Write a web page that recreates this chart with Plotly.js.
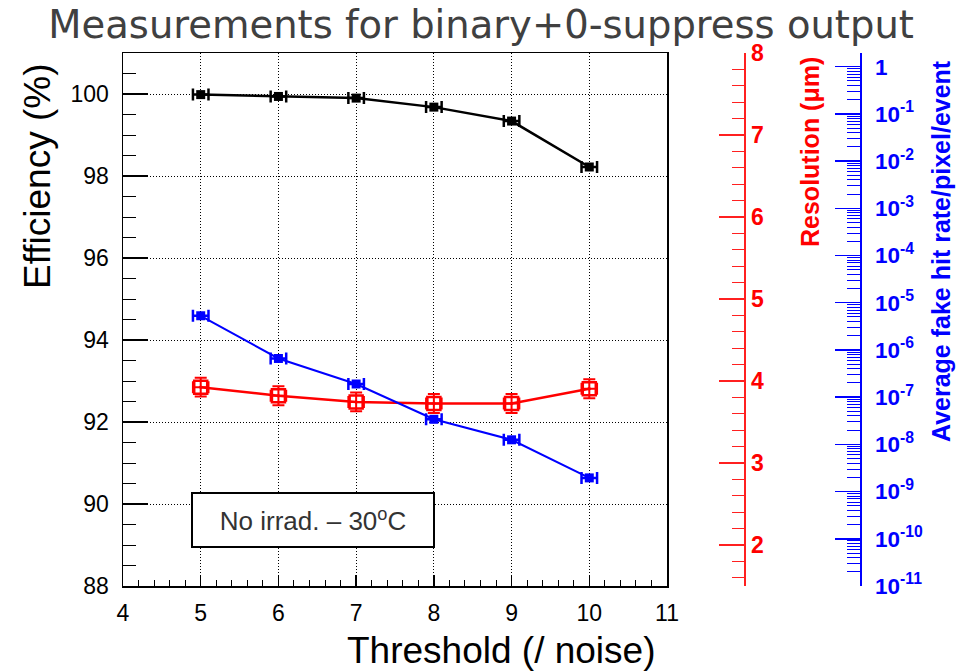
<!DOCTYPE html>
<html>
<head>
<meta charset="utf-8">
<script src="https://cdn.plot.ly/plotly-3.0.1.min.js"></script>
<style>html,body{margin:0;padding:0;background:#fff;}#chart{width:971px;height:672px;}</style>
</head>
<body>
<div id="chart"></div>
<script>
// ---- data ----
const thresholds = [5, 6, 7, 8, 9, 10];
const thresholdErr = [0.1, 0.1, 0.1, 0.1, 0.1, 0.1];
const efficiency = [99.985, 99.94, 99.90, 99.68, 99.34, 98.22];
const resolution = [3.925, 3.82, 3.745, 3.725, 3.725, 3.905];
const resolutionErr = [0.115, 0.115, 0.115, 0.115, 0.115, 0.115];
const fakeRate = [5.3e-6, 6.6e-7, 1.9e-7, 3.4e-8, 1.25e-8, 1.95e-9];
const resTickVals = [2, 3, 4, 5, 6, 7, 8];
const resTickText = ['<b>2</b>', '<b>3</b>', '<b>4</b>', '<b>5</b>', '<b>6</b>', '<b>7</b>', '<b>8</b>'];
const fakeTickVals = [1, 1e-1, 1e-2, 1e-3, 1e-4, 1e-5, 1e-6, 1e-7, 1e-8, 1e-9, 1e-10, 1e-11];
const fakeTickText = ['<b>1</b>', '<b>10<sup>-1</sup></b>', '<b>10<sup>-2</sup></b>', '<b>10<sup>-3</sup></b>',
  '<b>10<sup>-4</sup></b>', '<b>10<sup>-5</sup></b>', '<b>10<sup>-6</sup></b>', '<b>10<sup>-7</sup></b>',
  '<b>10<sup>-8</sup></b>', '<b>10<sup>-9</sup></b>', '<b>10<sup>-10</sup></b>', '<b>10<sup>-11</sup></b>'];
const titleText = 'Measurements for binary+0-suppress output';
const xTitle = 'Threshold (/ noise)';
const yTitle = 'Efficiency (%)';
const y2Title = '<b>Resolution (\u03bcm)</b>';
const y3Title = '<b>Average fake hit rate/pixel/event</b>';
const boxText = 'No irrad. \u2013 30<sup>o</sup>C';

const F = 'Liberation Sans, Arial, sans-serif';
const DOT = '1px,2px';

const traces = [
  {
    x: thresholds, y: efficiency, yaxis: 'y', xaxis: 'x', type: 'scatter', mode: 'lines+markers',
    line: {color: 'black', width: 2.5},
    marker: {symbol: 'square', size: 9, color: 'black'},
    error_x: {type: 'data', array: thresholdErr, color: 'black', thickness: 2.5, width: 6},
    cliponaxis: false
  },
  {
    x: thresholds, y: resolution, yaxis: 'y2', xaxis: 'x', type: 'scatter', mode: 'lines+markers',
    line: {color: '#ff0000', width: 2.5},
    marker: {symbol: 'square-open-dot', size: 13, color: '#ff0000', line: {width: 2.5, color: '#ff0000'}},
    error_x: {type: 'data', array: thresholdErr, color: '#ff0000', thickness: 2, width: 6},
    error_y: {type: 'data', array: resolutionErr, color: '#ff0000', thickness: 2, width: 6},
    cliponaxis: false
  },
  {
    x: thresholds, y: fakeRate, yaxis: 'y3', xaxis: 'x', type: 'scatter', mode: 'lines+markers',
    line: {color: '#0000ff', width: 2},
    marker: {symbol: 'square', size: 9, color: '#0000ff'},
    error_x: {type: 'data', array: thresholdErr, color: '#0000ff', thickness: 2.5, width: 6},
    cliponaxis: false
  }
];

const PW = 848; // plotting width after left margin
const xDomR = 544 / PW;

const layout = {
  width: 971, height: 672,
  margin: {l: 123, r: 0, t: 53, b: 86, pad: 0},
  paper_bgcolor: '#ffffff', plot_bgcolor: '#ffffff',
  showlegend: false,
  title: {
    text: titleText, xref: 'container', x: 0.4955, xanchor: 'center',
    yref: 'container', y: 1 - 25 / 672, yanchor: 'middle',
    font: {family: 'DejaVu Sans, sans-serif', size: 38.5, color: '#404040'}
  },
  xaxis: {
    domain: [0, xDomR], range: [4, 11], tick0: 4, dtick: 1,
    ticks: 'inside', ticklen: 11, tickwidth: 1.5, tickcolor: 'black',
    showline: true, linecolor: 'black', linewidth: 1.5, mirror: true,
    showgrid: true, gridcolor: 'black', gridwidth: 1, griddash: DOT, zeroline: false,
    tickfont: {family: F, size: 23, color: 'black'}, ticklabelstandoff: 6,
    minor: {dtick: 0.2, ticks: 'inside', ticklen: 6, tickcolor: 'black', tickwidth: 1, showgrid: false}
  },
  yaxis: {
    range: [88, 101], tick0: 88, dtick: 2,
    ticks: 'inside', ticklen: 25, tickwidth: 1.5, tickcolor: 'black',
    showline: true, linecolor: 'black', linewidth: 1.5, mirror: true,
    showgrid: true, gridcolor: 'black', gridwidth: 1, griddash: DOT, zeroline: false,
    tickfont: {family: F, size: 23, color: 'black'}, ticklabelstandoff: 8,
    minor: {dtick: 0.5, ticks: 'inside', ticklen: 13, tickcolor: 'black', tickwidth: 1, showgrid: false}
  },
  yaxis2: {
    overlaying: 'y', anchor: 'free', position: (744 - 123) / PW, side: 'right',
    range: [1.5, 8], tickmode: 'array', tickvals: resTickVals, ticktext: resTickText,
    ticks: 'inside', ticklen: 25, tickwidth: 1.5, tickcolor: '#ff2020',
    showline: true, linecolor: '#ff2020', linewidth: 1.5,
    showgrid: false, zeroline: false,
    tickfont: {family: F, size: 23, color: '#ff0000'}, ticklabelstandoff: 1,
    minor: {tickmode: 'linear', tick0: 0, dtick: 0.2, ticks: 'inside', ticklen: 12, tickcolor: '#ff2020', tickwidth: 1, showgrid: false}
  },
  yaxis3: {
    overlaying: 'y', anchor: 'free', position: (860 - 123) / PW, side: 'right',
    type: 'log', range: [-11, 0.29],
    tickmode: 'array', tickvals: fakeTickVals, ticktext: fakeTickText,
    ticks: 'inside', ticklen: 25, tickwidth: 1.5, tickcolor: '#0000ff',
    showline: true, linecolor: '#0000ff', linewidth: 1.5,
    showgrid: false, zeroline: false,
    tickfont: {family: F, size: 22.5, color: '#0000ff'}, ticklabelstandoff: 9,
    minor: {dtick: 'D1', ticks: 'inside', ticklen: 13, tickcolor: '#0000ff', tickwidth: 1, showgrid: false}
  },
  annotations: [
    {text: yTitle, xref: 'paper', yref: 'paper', x: (37 - 123) / PW, y: 1 - (176 - 53) / 533,
     xanchor: 'center', yanchor: 'middle', textangle: -90, showarrow: false,
     font: {family: F, size: 37, color: 'black'}},
    {text: xTitle, xref: 'paper', yref: 'paper', x: (501 - 123) / PW, y: -(650 - 586) / 533,
     xanchor: 'center', yanchor: 'middle', showarrow: false,
     font: {family: F, size: 37, color: 'black'}},
    {text: y2Title, xref: 'paper', yref: 'paper', x: (810 - 123) / PW, y: 1 - (152 - 53) / 533,
     xanchor: 'center', yanchor: 'middle', textangle: -90, showarrow: false,
     font: {family: F, size: 25, color: '#ff0000'}},
    {text: y3Title, xref: 'paper', yref: 'paper', x: (941 - 123) / PW, y: 1 - (251 - 53) / 533,
     xanchor: 'center', yanchor: 'middle', textangle: -90, showarrow: false,
     font: {family: F, size: 25, color: '#0000ff'}},
    {text: boxText, xref: 'paper', yref: 'paper', x: (312.8 - 123) / PW, y: 1 - (520 - 53) / 533,
     xanchor: 'center', yanchor: 'middle', showarrow: false,
     width: 236, height: 48, borderpad: 2, bordercolor: 'black', borderwidth: 2, bgcolor: '#ffffff',
     font: {family: F, size: 26, color: '#333333'}}
  ]
};

Plotly.newPlot('chart', traces, layout, {displayModeBar: false, staticPlot: true});
</script>
</body>
</html>
